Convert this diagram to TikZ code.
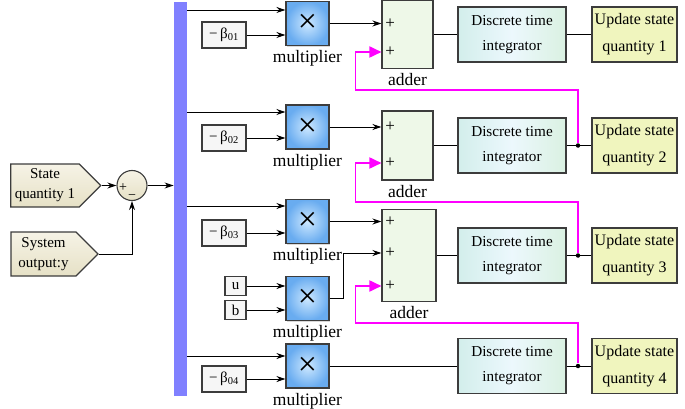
\documentclass[tikz,border=0pt]{standalone}
\usepackage{fontspec}
\setmainfont{Liberation Serif}
\usetikzlibrary{arrows.meta,shapes.symbols,shadows}
\tikzset{>={Stealth[length=9pt,width=6pt]}}

\definecolor{frame}{RGB}{60,60,60}
\definecolor{busblue}{RGB}{128,128,255}
\definecolor{multin}{RGB}{205,232,255}
\definecolor{multout}{RGB}{105,172,240}
\definecolor{addfill}{RGB}{238,248,232}
\definecolor{dtileft}{RGB}{186,228,218}
\definecolor{dtimid}{RGB}{236,248,253}
\definecolor{dtiright}{RGB}{200,234,198}
\definecolor{updfill}{RGB}{240,245,190}
\definecolor{betafill}{RGB}{246,246,246}
\definecolor{beigetop}{RGB}{246,243,230}
\definecolor{beigebot}{RGB}{230,225,198}
\definecolor{fbmag}{RGB}{255,0,255}
\pgfdeclarehorizontalshading{dtishade}{100bp}{color(0bp)=(dtileft); color(50bp)=(dtimid); color(100bp)=(dtiright)}

\begin{document}
\begin{tikzpicture}
  [x=1pt,y=-1pt,line width=0.9pt,
   every node/.style={inner sep=0pt,font=\fontsize{17.5}{20}\selectfont},
   block/.style={draw=frame,line width=1.1pt},
   mult/.style={block,minimum width=43pt,minimum height=44pt,
     inner color=multin,outer color=multout,
     drop shadow={opacity=0.3,shadow xshift=1.2pt,shadow yshift=-1.2pt},
     font=\fontsize{34}{34}\selectfont,
     label={[inner sep=0pt,label distance=4pt,font=\fontsize{17.5}{20}\selectfont]below:multiplier}},
   coef/.style={block,fill=betafill,minimum width=44pt,minimum height=26pt,
     drop shadow={opacity=0.3,shadow xshift=1.2pt,shadow yshift=-1.2pt},
     font=\fontsize{15}{15}\selectfont},
   inbox/.style={block,fill=betafill,minimum width=21pt,minimum height=19pt,
     font=\fontsize{15}{15}\selectfont},
   adder/.style={block,fill=addfill,minimum width=51pt,
     label={[inner sep=0pt,label distance=4pt,font=\fontsize{17.5}{20}\selectfont]below:adder}},
   plus/.style={anchor=west,font=\fontsize{17}{17}\selectfont},
   integ/.style={block,shading=dtishade,
     minimum width=108pt,minimum height=55pt,align=center,
     font=\fontsize{15.2}{25}\selectfont},
   upd/.style={block,fill=updfill,minimum width=85pt,minimum height=55pt,
     align=center,font=\fontsize{16}{27}\selectfont},
   src/.style={block,shape=signal,signal to=east,signal pointer angle=90,
     top color=beigetop,bottom color=beigebot,align=center,
     font=\fontsize{15}{20}\selectfont},
   fb/.style={draw=fbmag,line width=1.8pt,-{Triangle[length=12pt,width=11pt]}},
   dot/.style={circle,fill=black,minimum size=4.5pt}]

  \useasboundingbox (0,0) rectangle (685,409);

  % inputs and comparison
  \node[src,minimum width=90pt,minimum height=43pt] (sq) at (45,185.5) {State\\quantity 1};
  \node[src,minimum width=87pt,minimum height=44pt] (so) at (43.5,254) {System\\output:y};
  \node[block,circle,top color=beigetop,bottom color=beigebot,minimum size=30pt] (sum) at (132,185.5) {};
  \node[font=\fontsize{14}{14}\selectfont] (sp) at (123,188) {+};
  \node[font=\fontsize{14}{14}\selectfont] (sm) at (132,197) {−};
  \node[fill=busblue,minimum width=13pt,minimum height=394pt] (bus) at (180.5,199) {};

  % row 1
  \node[mult] (m1) at (307.5,23.5) {×};
  \node[coef] (b1) at (224,35) {−\,β\textsubscript{01}};
  \node[adder,minimum height=68pt] (a1) at (407.5,34.5) {};
  \node[plus] (p11) at (385,23.5) {+};
  \node[plus] (p12) at (385,52) {+};
  \node[integ] (d1) at (512,34.5) {Discrete time\\integrator};
  \node[upd] (u1) at (634.5,34.5) {Update state\\quantity 1};

  % row 2
  \node[mult] (m2) at (307.5,127) {×};
  \node[coef] (b2) at (224,138) {−\,β\textsubscript{02}};
  \node[adder,minimum height=69pt] (a2) at (407.5,145.5) {};
  \node[plus] (p21) at (385,127) {+};
  \node[plus] (p22) at (385,163) {+};
  \node[integ] (d2) at (512,145.5) {Discrete time\\integrator};
  \node[upd] (u2) at (634.5,145.5) {Update state\\quantity 2};

  % row 3
  \node[mult] (m3) at (307.5,221.5) {×};
  \node[coef] (b3) at (224,233) {−\,β\textsubscript{03}};
  \node[inbox] (ui) at (235.5,286) {u};
  \node[inbox] (bi) at (235.5,310) {b};
  \node[mult] (mub) at (307.5,298.5) {×};
  \node[adder,minimum width=54pt,minimum height=92pt] (a3) at (409,255.5) {};
  \node[plus] (p31) at (385,221.5) {+};
  \node[plus] (p32) at (385,253) {+};
  \node[plus] (p33) at (385,286) {+};
  \node[integ] (d3) at (512,255.5) {Discrete time\\integrator};
  \node[upd] (u3) at (634.5,255.5) {Update state\\quantity 3};

  % row 4
  \node[mult] (m4) at (307.5,366) {×};
  \node[coef] (b4) at (224,379) {−\,β\textsubscript{04}};
  \node[integ] (d4) at (512,366) {Discrete time\\integrator};
  \node[upd] (u4) at (634.5,366) {Update state\\quantity 4};

  \node[dot] (j2) at (578,145.5) {};
  \node[dot] (j3) at (578,255.5) {};
  \node[dot] (j4) at (578,366) {};

  \coordinate (f1) at (a1.west |- p12);
  \coordinate (f2) at (a2.west |- p22);
  \coordinate (g3) at (a3.west |- p32);
  \coordinate (f3) at (a3.west |- p33);

  \draw[->] (sq.east) -- (sum.west);
  \draw[->] (so.east) -| (sum.south);
  \draw[->] (sum) -- (sum -| bus.west);

  \draw[->] (bus.east |- 0,10) -- (m1.west |- 0,10);
  \draw[->] (bus.east |- 0,112) -- (m2.west |- 0,112);
  \draw[->] (bus.east |- 0,206) -- (m3.west |- 0,206);
  \draw[->] (bus.east |- 0,356) -- (m4.west |- 0,356);

  \draw[->] (b1) -- (b1 -| m1.west);
  \draw[->] (b2) -- (b2 -| m2.west);
  \draw[->] (b3) -- (b3 -| m3.west);
  \draw[->] (b4) -- (b4 -| m4.west);
  \draw[->] (ui) -- (ui -| mub.west);
  \draw[->] (bi) -- (bi -| mub.west);

  \draw[->] (m1) -- (m1 -| a1.west);
  \draw[->] (m2) -- (m2 -| a2.west);
  \draw[->] (m3) -- (m3 -| a3.west);
  \draw[->] (mub) -- ++(35.5,0) |- (g3);

  \draw (a1) -- (d1);
  \draw (a2) -- (d2);
  \draw (a3) -- (d3);
  \draw (m4) -- (d4);
  \draw (d1) -- (u1);
  \draw (d2) -- (u2);
  \draw (d3) -- (u3);
  \draw (d4) -- (u4);

  \draw[fb] (j2) |- (355.5,90) |- (f1);
  \draw[fb] (j3) |- (355.5,202) |- (f2);
  \draw[fb] (j4) |- (355.5,323) |- (f3);
\end{tikzpicture}
\end{document}
